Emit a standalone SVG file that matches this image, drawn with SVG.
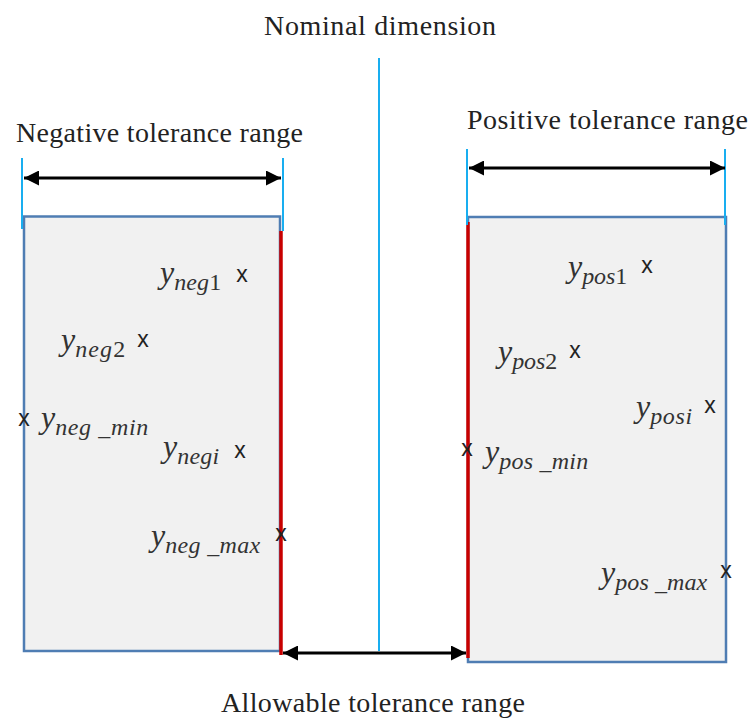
<svg xmlns="http://www.w3.org/2000/svg" width="750" height="727" viewBox="0 0 750 727">
<defs>
<style>
.box{fill:#f1f1f1;stroke:#4f7db3;stroke-width:2.5}
.red{stroke:#c80000;stroke-width:3.5;fill:none}
.cyan{stroke:#19aef0;stroke-width:2;fill:none}
.arr{stroke:#000;stroke-width:3;fill:none;marker-start:url(#ah);marker-end:url(#ah)}
.title{font-family:"Liberation Serif","Times New Roman",serif;font-size:28px;fill:#222}
.y{font-family:"Liberation Serif","Times New Roman",serif;font-style:italic;font-size:32px;fill:#333}
.s{font-size:24px}
.d{font-style:normal}
.x{font-family:"Liberation Sans",Arial,sans-serif;font-size:23px;fill:#222;text-anchor:middle}
</style>
<marker id="ah" viewBox="0 0 10 10" refX="10" refY="5" markerWidth="5" markerHeight="5" orient="auto-start-reverse" markerUnits="strokeWidth">
<path d="M0,0 L10,5 L0,10 Z" fill="#000"/>
</marker>
</defs>
<rect width="750" height="727" fill="#fff"/>
<g id="titles">
<text class="title" x="380" y="35" text-anchor="middle" textLength="232">Nominal dimension</text>
<text class="title" x="16" y="142" textLength="287">Negative tolerance range</text>
<text class="title" x="467" y="129" textLength="281">Positive tolerance range</text>
<text class="title" x="221" y="712" textLength="304">Allowable tolerance range</text>
</g>
<g id="neg-box">
<rect class="box" x="24" y="216.5" width="256" height="434.5"/>
<line class="red" x1="281" y1="231" x2="281" y2="655"/>
</g>
<g id="pos-box">
<rect class="box" x="468" y="217" width="258" height="445"/>
<line class="red" x1="468" y1="222" x2="468" y2="658"/>
</g>
<g id="connectors">
<line class="cyan" x1="22" y1="158" x2="22" y2="229"/>
<line class="cyan" x1="283" y1="158" x2="283" y2="231"/>
<line class="cyan" x1="467" y1="149" x2="467" y2="225"/>
<line class="cyan" x1="725" y1="149" x2="725" y2="225"/>
<line class="cyan" x1="379" y1="58" x2="379" y2="651"/>
<line class="arr" x1="24" y1="178" x2="281" y2="178"/>
<line class="arr" x1="469" y1="168" x2="725" y2="168"/>
<line class="arr" x1="283" y1="653" x2="466" y2="653"/>
</g>
<g id="neg-points">
<text class="y" x="160" y="283">y<tspan class="s" dy="7" textLength="47">neg<tspan class="d">1</tspan></tspan></text>
<text class="x" x="242" y="282">x</text>
<text class="y" x="61" y="350">y<tspan class="s" dy="7" textLength="50">neg<tspan class="d">2</tspan></tspan></text>
<text class="x" x="143" y="347">x</text>
<text class="y" x="41" y="428">y<tspan class="s" dy="7" textLength="93">neg _min</tspan></text>
<text class="x" x="24" y="426">x</text>
<text class="y" x="163" y="457">y<tspan class="s" dy="7" textLength="42">negi</tspan></text>
<text class="x" x="240" y="458">x</text>
<text class="y" x="151" y="546">y<tspan class="s" dy="7" textLength="95">neg _max</tspan></text>
<text class="x" x="281" y="541">x</text>
</g>
<g id="pos-points">
<text class="y" x="568" y="277">y<tspan class="s" dy="7" textLength="45">pos<tspan class="d">1</tspan></tspan></text>
<text class="x" x="647" y="273">x</text>
<text class="y" x="498" y="362">y<tspan class="s" dy="7" textLength="45">pos<tspan class="d">2</tspan></tspan></text>
<text class="x" x="575" y="358">x</text>
<text class="y" x="636" y="417">y<tspan class="s" dy="7" textLength="42">posi</tspan></text>
<text class="x" x="710" y="413">x</text>
<text class="y" x="485" y="462">y<tspan class="s" dy="7" textLength="89">pos _min</tspan></text>
<text class="x" x="467" y="456">x</text>
<text class="y" x="601" y="583">y<tspan class="s" dy="7" textLength="92">pos _max</tspan></text>
<text class="x" x="726" y="578">x</text>
</g>
</svg>
